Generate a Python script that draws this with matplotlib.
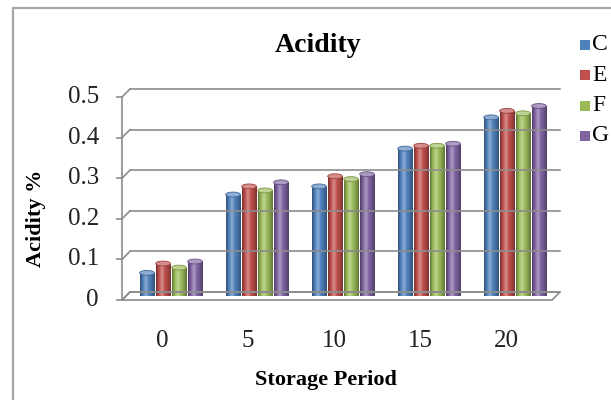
import numpy as np
import matplotlib
matplotlib.use("Agg")
import matplotlib.pyplot as plt
from matplotlib.transforms import ScaledTranslation, blended_transform_factory
from matplotlib.colors import LinearSegmentedColormap, to_rgb
from matplotlib.patches import Rectangle, Polygon, Ellipse
from matplotlib.lines import Line2D

# data
periods = ["0", "5", "10", "15", "20"]
series = ["C", "E", "F", "G"]
c_vals = [0.057, 0.250, 0.270, 0.363, 0.440]
e_vals = [0.080, 0.270, 0.295, 0.370, 0.456]
f_vals = [0.070, 0.260, 0.288, 0.370, 0.450]
g_vals = [0.085, 0.280, 0.300, 0.375, 0.468]
yticks = [0, 0.1, 0.2, 0.3, 0.4, 0.5]
ytick_labels = ["0", "0.1", "0.2", "0.3", "0.4", "0.5"]
colors = ["#4F81BD", "#C0504D", "#9BBB59", "#8064A2"]

plt.rcParams['font.family'] = ['Liberation Serif', 'DejaVu Serif']

W, H = 611, 400
fig = plt.figure(figsize=(W / 100, H / 100), dpi=100)
fig.patch.set_facecolor("white")

# back wall of the fake 3d box, in pixels
AX_L, AX_R, AX_T, AX_B = 130, 560, 89, 292
DEPTH = 8  # front is shifted left/down by this many pixels
grid_col = "#8C8C8C"


def fpx(x, y):
    return x / W, 1 - y / H


def line_px(xs, ys, **kw):
    pts = [fpx(x, y) for x, y in zip(xs, ys)]
    fig.add_artist(Line2D([p[0] for p in pts], [p[1] for p in pts],
                          transform=fig.transFigure, **kw))


# outer chart frame (cropped on right/bottom)
line_px([13, 13, W + 5], [H + 5, 8, 8], color="#A6A6A6", lw=1.6)

ax = fig.add_axes([AX_L / W, 1 - AX_B / H, (AX_R - AX_L) / W, (AX_B - AX_T) / H])
ax.set_ylim(0, 0.5)
unit = 86.0  # pixels per category
x_left = -(175 - AX_L) / unit
ax.set_xlim(x_left, x_left + (AX_R - AX_L) / unit)
ax.axis("off")


def y_back(v):
    return AX_B - v / 0.5 * (AX_B - AX_T)


# back wall gridlines, connectors to front axis, tick marks, labels
for v, lab in zip(yticks, ytick_labels):
    yb = y_back(v)
    yf = yb + DEPTH
    line_px([AX_L, AX_R], [yb, yb], color=grid_col, lw=1.2)
    line_px([AX_L - DEPTH, AX_L], [yf, yb], color=grid_col, lw=1.2)
    line_px([AX_L - DEPTH - 5, AX_L - DEPTH], [yf, yf], color=grid_col, lw=1.2)
    fig.text(*fpx(AX_L - DEPTH - 23, yf), lab, ha="right", va="center",
             fontsize=18, color="#222222")

# front vertical axis
line_px([AX_L - DEPTH, AX_L - DEPTH], [y_back(0) + DEPTH, y_back(0.5) + DEPTH],
        color=grid_col, lw=1.2)
# floor
floor = Polygon([fpx(AX_L - DEPTH, AX_B + DEPTH), fpx(AX_R - DEPTH, AX_B + DEPTH),
                 fpx(AX_R, AX_B), fpx(AX_L, AX_B)], closed=True,
                transform=fig.transFigure, facecolor="none",
                edgecolor=grid_col, lw=1.2)
fig.add_artist(floor)

# bars, drawn mid-depth
off_mid = ScaledTranslation(-0.04, 0.04 - 0.08, fig.dpi_scale_trans)
trans_mid = ax.transData + off_mid
all_vals = [c_vals, e_vals, f_vals, g_vals]
step = 0.186
bw = 0.17
x = np.arange(len(periods))
for i, (vals, col) in enumerate(zip(all_vals, colors)):
    base = np.array(to_rgb(col))
    dark = base * 0.62
    light = base + (1 - base) * 0.35
    cmap = LinearSegmentedColormap.from_list(
        "g", [dark, base, light, base, base * 0.85, dark])
    grad = np.linspace(0, 1, 64).reshape(1, -1)
    for xi, v in zip(x, vals):
        xc = xi + (i - 1.5) * step
        rect = Rectangle((xc - bw / 2, 0), bw, v, transform=trans_mid,
                         facecolor="none", edgecolor="none")
        ax.add_patch(rect)
        im = ax.imshow(grad, cmap=cmap, aspect="auto",
                       extent=[xc - bw / 2, xc + bw / 2, 0, v],
                       transform=trans_mid, zorder=3)
        im.set_clip_path(rect)
        cap = Ellipse((xc, v), bw, 0.012, transform=trans_mid,
                      facecolor=light, edgecolor=base * 0.8, lw=0.6, zorder=4)
        ax.add_patch(cap)

ax.set_xlim(x_left, x_left + (AX_R - AX_L) / unit)
ax.set_ylim(0, 0.5)

# category labels
lab_trans = blended_transform_factory(ax.transData, fig.transFigure) + \
    ScaledTranslation(-0.13, 0, fig.dpi_scale_trans)
for xi, p in zip(x, periods):
    ax.text(xi, 1 - 341 / H, p, transform=lab_trans, ha="center", va="center",
            fontsize=18, color="#222222")

# titles
fig.text(*fpx(318, 45), "Acidity", ha="center", va="center",
         fontsize=20, fontweight="bold")
fig.text(*fpx(36, 218), "Acidity %", ha="center", va="center",
         fontsize=16, fontweight="bold", rotation=90)
fig.text(*fpx(326, 380), "Storage Period", ha="center", va="center",
         fontsize=16, fontweight="bold")

# legend, squeezed against the right edge
for k, (name, col) in enumerate(zip(series, colors)):
    yc = 45 + k * 30.3
    fig.add_artist(Rectangle(fpx(580, yc + 5), 10 / W, 10 / H,
                             transform=fig.transFigure, facecolor=col,
                             edgecolor="none"))
    fig.text(*fpx(592, yc), name, ha="left", va="center", fontsize=17)

fig.savefig("out.png", dpi=100)
